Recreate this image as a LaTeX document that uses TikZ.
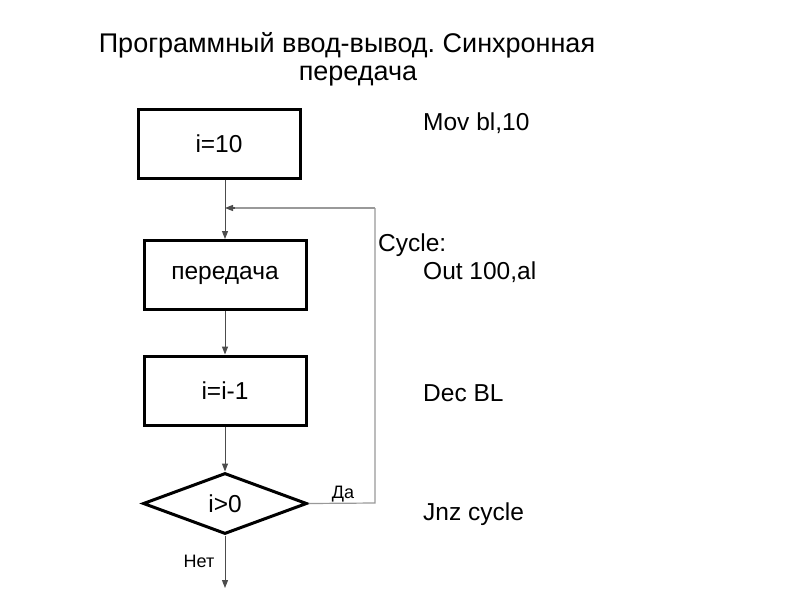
\documentclass[tikz,border=0pt]{standalone}
\usepackage{fontspec}
\setmainfont{Liberation Sans}
\usetikzlibrary{shapes.geometric,arrows.meta}
\begin{document}
\frenchspacing
\begin{tikzpicture}[x=1pt,y=-1pt,
  block/.style={draw=black,line width=3pt,minimum width=162pt,minimum height=69pt,inner sep=0pt,font=\fontsize{24.5}{28}\selectfont},
  decide/.style={draw=black,line width=3pt,diamond,aspect=2.7,minimum width=164pt,minimum height=61pt,inner sep=0pt,font=\fontsize{24.5}{28}\selectfont},
  flow/.style={draw=black!70,line width=1pt,-{Triangle[length=8pt,width=6pt]}},
  loopline/.style={draw=black!40,line width=1.2pt},
  code/.style={anchor=west,inner sep=0pt,font=\fontsize{24.5}{28}\selectfont},
  small/.style={inner sep=0pt,font=\fontsize{18}{21}\selectfont},
  title/.style={inner sep=0pt,font=\fontsize{27}{31}\selectfont}]
\useasboundingbox (0,0) rectangle (800,600);
\fill[white] (0,0) rectangle (800,600);
\node[title] (t1) at (347,45) {Программный ввод-вывод. Синхронная};
\node[title] (t2) at (358,76) {передача};
\node[block] (b1) at (219,143.5) {i=10};
\node[block] (b2) at (225,275) {передача};
\node[block] (b3) at (225,390.5) {i=i-1};
\node[decide] (d) at (225,503.5) {i>0};
\coordinate (j) at (225,208);
\coordinate (lc) at (375,208);
\coordinate (lb) at (375,503);
\coordinate (e) at (225,588);
\draw[flow] (b1.south -| j) -- (b2.north);
\draw[flow] (b2) -- (b3);
\draw[flow] (b3) -- (d);
\draw[flow] (d) -- (e);
\draw[loopline] (d.east) -- (lb) -- (lc);
\draw[loopline,draw=black!70,-{Triangle[length=8pt,width=6pt]}] (lc) -- (j);
\draw[loopline] (lc) -- ([xshift=10pt]j);
\node[small] (da) at (343,494) {Да};
\node[small] (net) at (199,561) {Нет};
\node[code] (c1) at (423,123) {Mov bl,10};
\node[code] (c2) at (378,245) {Cycle:};
\node[code] (c3) at (423,272) {Out 100,al};
\node[code] (c4) at (423,393) {Dec BL};
\node[code] (c5) at (423,514) {Jnz cycle};
\end{tikzpicture}
\end{document}
